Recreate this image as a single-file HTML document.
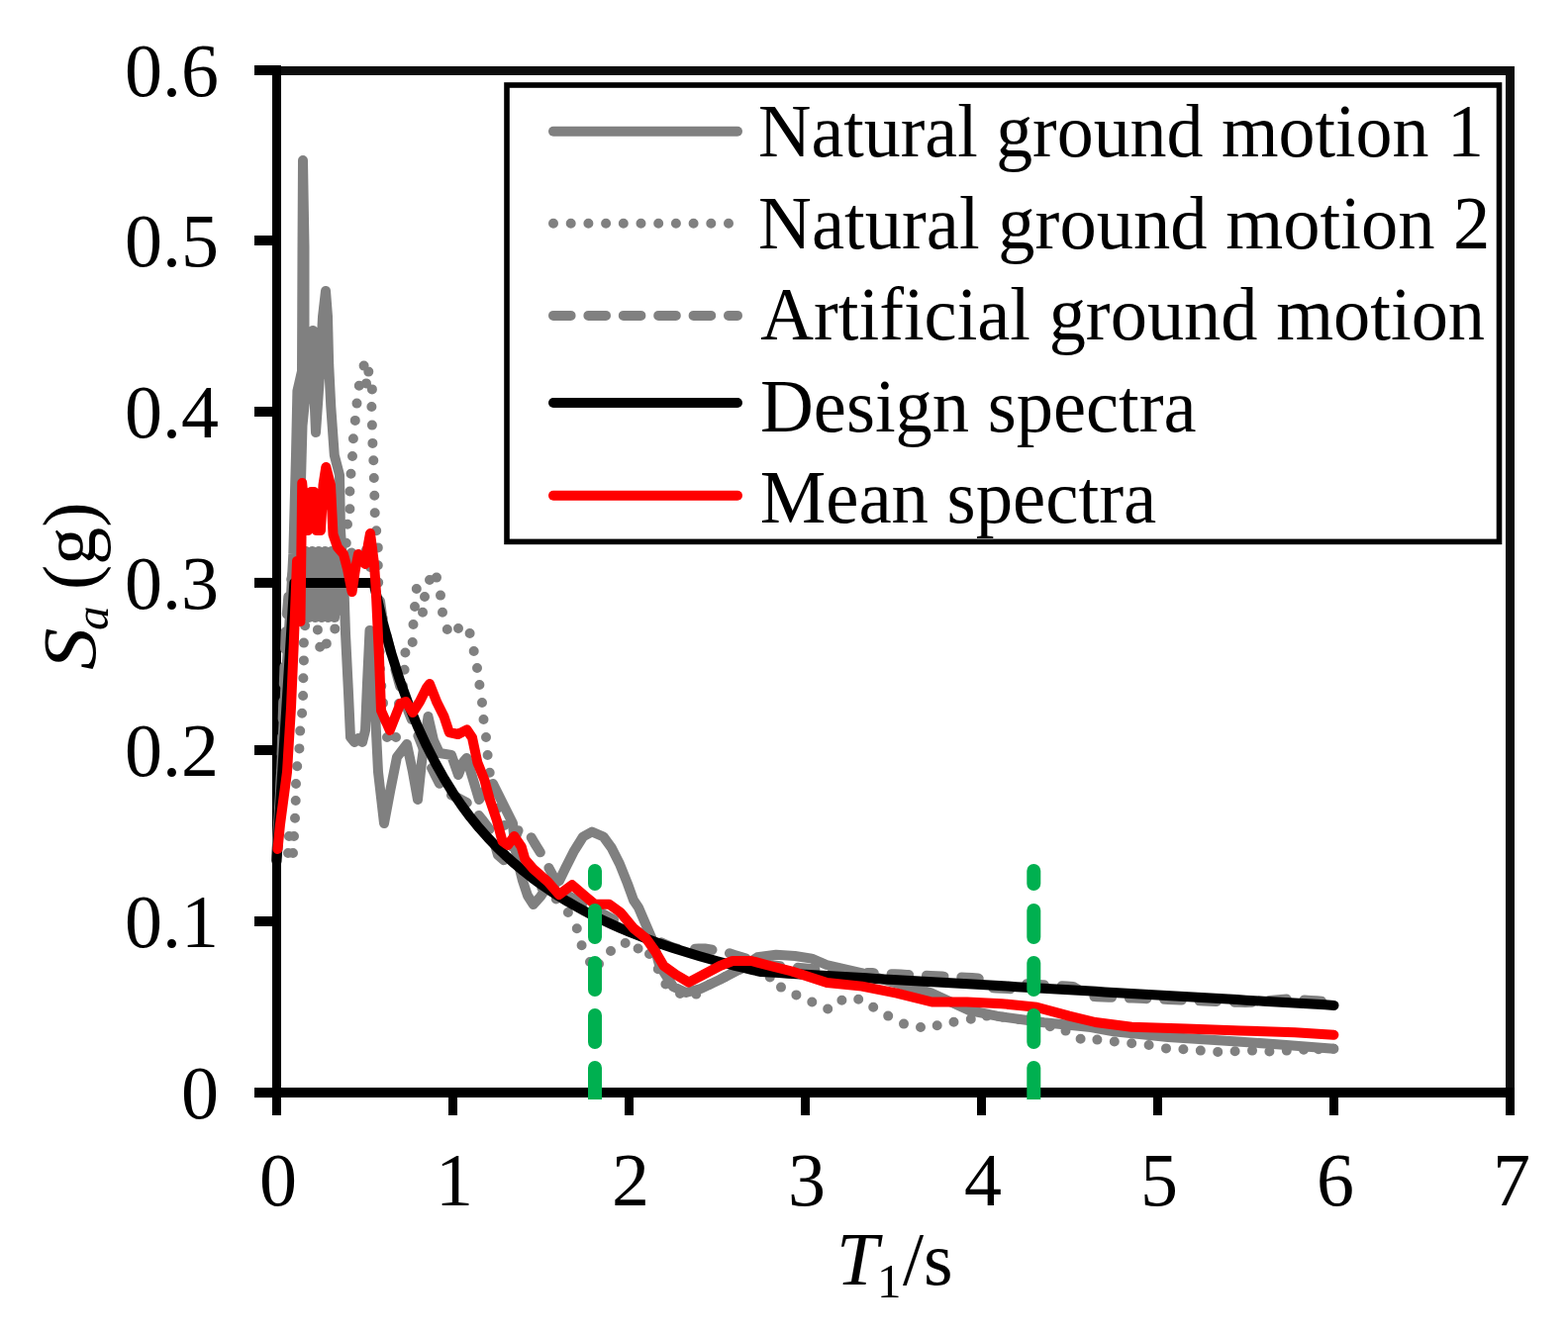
<!DOCTYPE html><html><head><meta charset="utf-8"><style>html,body{margin:0;padding:0;background:#fff}svg{display:block}</style></head><body>
<svg width="1584" height="1349" viewBox="0 0 1584 1349">
<rect width="1584" height="1349" fill="#fff"/>
<rect x="279.5" y="71.5" width="1246" height="1032.5" fill="none" stroke="#0d0d0d" stroke-width="9"/>
<line x1="279.5" y1="66" x2="279.5" y2="1109" stroke="#000" stroke-width="9"/>
<line x1="275" y1="1104" x2="1530" y2="1104" stroke="#000" stroke-width="10"/>
<line x1="257" y1="1104.1" x2="280" y2="1104.1" stroke="#000" stroke-width="10"/>
<line x1="257" y1="931.0" x2="280" y2="931.0" stroke="#000" stroke-width="10"/>
<line x1="257" y1="758.0" x2="280" y2="758.0" stroke="#000" stroke-width="10"/>
<line x1="257" y1="588.9" x2="280" y2="588.9" stroke="#000" stroke-width="10"/>
<line x1="257" y1="416.0" x2="280" y2="416.0" stroke="#000" stroke-width="10"/>
<line x1="257" y1="243.0" x2="280" y2="243.0" stroke="#000" stroke-width="10"/>
<line x1="257" y1="71.0" x2="280" y2="71.0" stroke="#000" stroke-width="10"/>
<line x1="279.5" y1="1100" x2="279.5" y2="1127" stroke="#000" stroke-width="9"/>
<line x1="457.5" y1="1100" x2="457.5" y2="1127" stroke="#000" stroke-width="9"/>
<line x1="635.5" y1="1100" x2="635.5" y2="1127" stroke="#000" stroke-width="9"/>
<line x1="813.5" y1="1100" x2="813.5" y2="1127" stroke="#000" stroke-width="9"/>
<line x1="991.5" y1="1100" x2="991.5" y2="1127" stroke="#000" stroke-width="9"/>
<line x1="1169.5" y1="1100" x2="1169.5" y2="1127" stroke="#000" stroke-width="9"/>
<line x1="1347.5" y1="1100" x2="1347.5" y2="1127" stroke="#000" stroke-width="9"/>
<line x1="1525.5" y1="1100" x2="1525.5" y2="1127" stroke="#000" stroke-width="9"/>
<defs><clipPath id="pa"><rect x="279.5" y="71" width="1246" height="1033"/></clipPath></defs>
<g fill="none" stroke-linejoin="round">
<polyline points="279.0,868.0 283.0,800.0 288.0,700.0 293.0,620.0 296.3,560.0 299.0,460.0 300.4,395.0 305.0,375.0 305.5,250.0 306.0,162.0 307.5,250.0 307.5,380.0 305.0,440.0 304.0,486.0 305.5,430.0 310.0,385.0 316.0,334.0 317.5,400.0 319.0,437.0 323.0,380.0 326.0,320.0 329.0,294.0 331.0,320.0 332.2,368.6 334.3,411.0 337.8,460.0 343.0,480.0 344.0,536.0 347.0,580.0 349.0,640.0 352.0,700.0 354.0,745.0 358.0,750.0 362.0,746.0 366.0,750.0 369.0,738.0 371.0,690.0 373.5,637.0 378.0,700.0 382.0,780.0 388.0,832.0 394.0,800.0 401.0,765.0 411.0,752.0 417.0,780.0 422.0,808.0 426.0,770.0 432.5,724.0 438.0,748.0 444.0,761.0 456.0,763.0 463.0,783.0 468.0,770.0 471.4,766.0 478.0,788.0 484.0,808.0 492.0,796.0 498.0,792.0 508.0,812.0 518.0,832.0 520.0,855.0 523.0,870.0 528.0,890.0 533.0,905.0 538.8,914.0 546.0,906.0 552.0,897.0 560.0,893.0 565.0,890.0 571.3,877.0 579.5,860.7 589.0,845.5 598.0,840.5 609.6,845.5 617.8,856.7 626.0,873.0 634.0,893.0 640.0,909.6 645.0,917.0 654.0,938.0 660.0,952.0 666.0,975.0 680.0,997.0 693.0,1003.0 708.0,999.0 727.0,990.0 746.0,980.0 765.0,967.3 784.0,964.8 803.0,966.0 820.0,968.6 835.0,975.0 870.0,983.0 900.0,992.0 940.0,1003.0 979.0,1021.0 1007.0,1026.7 1054.7,1033.3 1102.0,1038.0 1125.0,1042.4 1180.0,1048.0 1234.8,1051.5 1289.7,1055.2 1347.4,1059.8" stroke="#808080" stroke-width="10" stroke-linecap="round"/>
<path d="M291.0 862.0h0M296.0 862.0h0M292.0 845.0h0M297.0 845.0h0M298.0 826.8h0M298.7 809.0h0M299.0 792.0h0M300.2 774.2h0M302.4 756.4h0M303.2 738.6h0M305.1 720.8h0M306.1 703.0h0M306.4 685.2h0M306.9 667.4h0M306.9 649.6h0M308.1 632.2h0M310.5 614.9h0M315.3 601.9h0M318.2 619.2h0M320.9 636.4h0M323.2 653.8h0M329.8 650.4h0M338.3 635.4h0M340.4 618.0h0M342.5 600.7h0M344.6 583.3h0M347.1 566.0h0M349.8 548.7h0M351.0 529.7h0M353.4 514.3h0M353.4 496.5h0M354.5 478.7h0M356.0 461.0h0M356.9 443.2h0M358.8 424.9h0M360.5 407.6h0M362.8 389.8h0M367.6 369.6h0M370.0 387.4h0M372.3 375.6h0M375.9 393.4h0M375.4 411.0h0M375.9 429.6h0M376.4 447.9h0M377.3 465.2h0M377.8 483.0h0M378.3 500.8h0M378.7 518.3h0M380.2 536.3h0M381.8 553.4h0M381.8 571.2h0M382.2 588.6h0M382.7 606.0h0M383.1 623.4h0M383.3 640.9h0M383.6 658.3h0M383.9 675.7h0M385.3 693.1h0M387.0 710.4h0M388.9 727.7h0M391.0 745.0h0M400.0 745.0h0M403.0 711.0h0M407.0 693.0h0M408.6 676.7h0M409.4 659.5h0M416.7 649.0h0M417.5 631.0h0M419.0 613.0h0M420.8 595.0h0M427.0 618.7h0M429.0 603.0h0M434.0 586.0h0M441.0 583.6h0M445.0 601.6h0M447.0 618.7h0M451.8 636.0h0M463.0 635.0h0M474.6 640.0h0M478.7 658.0h0M482.0 675.0h0M484.4 692.0h0M487.0 710.0h0M488.5 727.0h0M491.0 745.0h0M492.6 763.0h0M494.7 780.7h0M498.0 798.9h0M502.7 816.7h0M509.6 833.9h0M516.4 851.1h0M525.2 867.3h0M536.0 882.3h0M547.3 896.9h0M561.8 908.4h0M573.9 922.0h0M582.8 938.2h0M587.6 955.3h0M596.0 972.0h0M605.0 974.0h0M617.0 961.0h0M631.7 953.0h0M644.6 958.5h0M656.0 964.0h0M664.8 979.3h0M672.4 994.5h0M687.0 1004.0h0M703.3 1004.6h0M716.9 994.8h0M732.3 987.2h0M747.6 979.6h0M763.9 977.4h0M777.8 987.5h0M789.0 997.6h0M804.4 1005.4h0M820.3 1012.5h0M836.2 1019.5h0M850.4 1010.7h0M867.2 1009.8h0M882.2 1017.8h0M897.2 1026.6h0M913.0 1034.6h0M930.0 1038.0h0M946.7 1036.3h0M963.5 1032.8h0M980.8 1029.8h0M996.8 1026.6h0M1012.9 1027.7h0M1029.1 1029.9h0M1044.9 1033.5h0M1060.8 1037.2h0M1076.5 1041.6h0M1091.6 1049.7h0M1108.4 1050.6h0M1125.8 1052.5h0M1143.2 1054.3h0M1160.6 1056.0h0M1178.0 1059.4h0M1195.4 1060.3h0M1212.8 1061.6h0M1230.2 1062.9h0M1247.6 1062.2h0M1265.0 1061.6h0M1282.4 1062.5h0M1299.8 1061.6h0M1317.0 1060.7h0M1332.0 1060.3h0M1347.0 1059.8h0" stroke="#808080" stroke-width="10" stroke-linecap="round"/>
<polyline points="309.0,557.0 312.0,624.0 315.5,557.0 318.5,624.0 322.0,557.0 325.0,624.0 328.5,557.0 331.5,624.0 335.0,557.0 338.0,624.0 341.5,557.0 344.0,610.0" stroke="#808080" stroke-width="10" stroke-linecap="round"/>
<polyline points="279.0,868.0 282.6,820.0 284.0,780.0 286.5,700.0 289.0,630.0 292.0,595.0 298.0,570.0 305.0,560.0 309.0,590.0 316.0,560.0 323.0,600.0 330.0,565.0 337.0,595.0 344.0,560.0 350.0,575.0 356.0,556.0 363.0,553.0 370.0,556.0 378.0,590.0" stroke="#808080" stroke-width="10" stroke-linecap="round" stroke-dasharray="17.6 17.8" stroke-dashoffset="0.00"/>
<polyline points="378.0,590.0 383.0,600.0 386.0,622.0 392.0,648.0 399.0,675.0 406.0,700.0 413.0,720.0 425.0,750.0 433.0,770.0 440.0,784.0 448.0,800.0 462.0,806.0 475.0,813.0 487.0,828.0 496.0,840.0 503.0,864.0 510.0,870.0 516.0,862.0 520.0,848.0 524.0,838.0 533.0,840.0 540.0,852.0 550.0,868.0 555.0,878.0 562.0,891.0" stroke="#808080" stroke-width="10" stroke-linecap="round" stroke-dasharray="17.6 17.8" stroke-dashoffset="16.60"/>
<polyline points="562.0,898.0 568.0,901.6 574.0,905.0 580.0,908.3 586.0,911.4 592.0,914.5 598.0,917.4 604.0,920.6 610.0,924.0 616.0,927.2 622.0,930.3 628.0,933.4 634.0,936.3 640.0,939.2 646.0,942.2 652.0,945.0 658.0,947.9 664.0,950.6 670.0,953.3 676.0,955.9 682.0,958.1 688.0,959.4 694.0,959.5 700.0,958.9 706.0,958.6 712.0,958.4 718.0,959.5 724.0,960.6 730.0,961.7 736.0,962.9 742.0,964.9 748.0,966.8 754.0,968.7 760.0,970.6 766.0,972.6 772.0,974.0 778.0,975.0 784.0,975.7 790.0,976.3 796.0,976.8 802.0,977.4 808.0,978.0 814.0,978.5 820.0,979.1 826.0,979.7 832.0,980.3 838.0,980.8 844.0,981.4 850.0,982.0 856.0,982.6 862.0,983.0 868.0,983.0 874.0,983.1 880.0,983.1" stroke="#808080" stroke-width="10" stroke-linecap="round" stroke-dasharray="17.6 17.8" stroke-dashoffset="22.50"/>
<polyline points="880.0,983.1 886.0,983.4 892.0,983.7 898.0,984.0 904.0,984.3 910.0,984.6 916.0,984.9 922.0,985.2 928.0,985.5 934.0,985.7 940.0,986.0 946.0,986.3 952.0,986.6 958.0,986.9 964.0,987.2 970.0,987.5 976.0,987.8 982.0,988.1 988.0,988.4 994.0,992.3 1000.0,998.1 1006.0,998.4 1012.0,998.8 1018.0,999.1 1024.0,999.5 1030.0,996.1 1036.0,994.2 1042.0,994.5 1048.0,994.9 1054.0,995.2 1060.0,995.5 1066.0,995.9 1072.0,996.2 1078.0,996.6 1084.0,996.9 1090.0,1000.3 1096.0,1004.2 1102.0,1006.9 1108.0,1007.2 1114.0,1007.4 1120.0,1007.7 1126.0,1007.9 1132.0,1008.1 1138.0,1008.4 1144.0,1008.6 1150.0,1008.8 1156.0,1009.1 1162.0,1009.3 1168.0,1009.5 1174.0,1009.8 1180.0,1010.0 1186.0,1010.2 1192.0,1010.5 1198.0,1010.7 1204.0,1011.0 1210.0,1011.2 1216.0,1011.4 1222.0,1011.7 1228.0,1011.9 1234.0,1012.1 1240.0,1012.4 1246.0,1012.6 1252.0,1012.8 1258.0,1013.1 1264.0,1012.8 1270.0,1012.2 1276.0,1011.7 1282.0,1011.1 1288.0,1010.6 1294.0,1010.0 1300.0,1009.5 1306.0,1009.8 1312.0,1010.2 1318.0,1010.5 1324.0,1010.9 1330.0,1011.2 1336.0,1011.9 1342.0,1014.2 1347.0,1016.2" stroke="#808080" stroke-width="10" stroke-linecap="round" stroke-dasharray="17.6 17.8" stroke-dashoffset="14.80"/>
<polyline points="279.5,870.4 297.3,588.9 377.4,588.9 386.3,627.1 395.2,659.7 404.1,687.9 413.0,712.5 421.9,734.1 430.8,753.3 439.7,770.8 448.6,786.6 457.5,801.0 466.4,814.0 475.3,825.9 484.2,836.8 493.1,846.8 502.0,856.1 510.9,864.7 519.8,872.7 528.7,880.1 537.6,887.1 546.5,893.6 555.4,899.7 564.3,905.5 573.2,910.9 582.1,916.0 591.0,920.9 599.9,925.5 608.8,929.8 617.7,933.9 626.6,937.9 635.5,941.6 644.4,945.2 653.3,948.6 662.2,951.9 671.1,955.0 680.0,958.0 688.9,960.8 697.8,963.6 706.7,966.2 715.6,968.7 724.5,971.2 733.4,973.5 742.3,975.8 751.2,978.0 760.1,980.1 769.0,982.1 777.9,982.6 786.8,983.1 795.7,983.7 804.6,984.2 813.5,984.7 822.4,985.2 831.3,985.7 840.2,986.3 849.1,986.8 858.0,987.3 866.9,987.8 875.8,988.3 884.7,988.9 893.6,989.4 902.5,989.9 911.4,990.4 920.3,990.9 929.2,991.5 938.1,992.0 947.0,992.5 955.9,993.0 964.8,993.5 973.7,994.0 982.6,994.6 991.5,995.1 1000.4,995.6 1009.3,996.1 1018.2,996.6 1027.1,997.2 1036.0,997.7 1044.9,998.2 1053.8,998.7 1062.7,999.2 1071.6,999.8 1080.5,1000.3 1089.4,1000.8 1098.3,1001.3 1107.2,1001.8 1116.1,1002.4 1125.0,1002.9 1133.9,1003.4 1142.8,1003.9 1151.7,1004.4 1160.6,1005.0 1169.5,1005.5 1178.4,1006.0 1187.3,1006.5 1196.2,1007.0 1205.1,1007.5 1214.0,1008.1 1222.9,1008.6 1231.8,1009.1 1240.7,1009.6 1249.6,1010.1 1258.5,1010.7 1267.4,1011.2 1276.3,1011.7 1285.2,1012.2 1294.1,1012.7 1303.0,1013.3 1311.9,1013.8 1320.8,1014.3 1329.7,1014.8 1338.6,1015.3 1347.5,1015.9" stroke="#000" stroke-width="10" stroke-linecap="round"/>
<polyline points="280.5,858.0 283.0,833.0 290.0,780.0 294.0,715.0 296.8,650.0 300.0,567.0 303.5,628.0 305.2,488.0 308.0,520.0 311.0,536.0 314.5,497.0 317.0,497.0 320.0,536.0 324.0,536.0 326.5,490.0 329.3,472.0 334.0,490.0 336.5,540.0 341.0,553.0 347.0,560.0 351.0,575.0 355.6,598.0 359.0,575.0 362.0,560.0 366.0,566.0 369.0,570.0 372.0,550.0 374.0,539.0 378.0,570.0 379.6,593.0 383.0,665.0 385.0,718.0 393.8,738.0 404.5,711.0 410.0,709.0 417.0,720.0 424.0,709.0 431.0,695.0 434.0,691.0 441.4,709.8 448.5,724.0 453.8,740.0 462.7,742.0 471.6,737.4 477.0,745.4 482.3,770.3 489.4,788.0 494.7,807.7 501.9,829.0 507.5,850.0 513.0,854.0 519.5,845.0 526.8,855.8 530.3,868.2 538.7,878.0 553.4,891.0 564.8,904.0 577.9,894.2 591.0,905.6 600.7,913.7 615.4,913.7 626.8,922.0 640.0,938.0 652.8,948.4 661.7,961.0 670.5,976.0 683.0,985.0 695.8,992.6 708.4,986.0 727.3,976.0 740.0,971.0 759.0,971.0 778.0,976.0 800.0,981.5 835.4,993.0 870.7,996.6 906.0,1003.6 941.4,1012.5 976.8,1012.5 1012.0,1014.2 1047.5,1017.8 1080.0,1026.6 1106.6,1033.0 1143.2,1037.8 1198.0,1039.6 1253.0,1041.5 1308.0,1043.3 1347.4,1045.7" stroke="#f00" stroke-width="10" stroke-linecap="round"/>
</g>
<defs><clipPath id="gc"><rect x="0" y="0" width="1584" height="1111"/></clipPath></defs>
<line clip-path="url(#gc)" x1="601.0" y1="1117" x2="601.0" y2="880" stroke="#00b050" stroke-width="14" stroke-linecap="round" stroke-dasharray="38 26 27 26 27 26 27 27 27 30"/>
<line clip-path="url(#gc)" x1="1044.3" y1="1117" x2="1044.3" y2="880" stroke="#00b050" stroke-width="14" stroke-linecap="round" stroke-dasharray="38 26 27 26 27 26 27 27 27 30"/>
<text x="221" y="1130.1" font-family="Liberation Serif, serif" font-size="76" text-anchor="end">0</text>
<text x="221" y="957.0" font-family="Liberation Serif, serif" font-size="76" text-anchor="end">0.1</text>
<text x="221" y="784.0" font-family="Liberation Serif, serif" font-size="76" text-anchor="end">0.2</text>
<text x="221" y="614.9" font-family="Liberation Serif, serif" font-size="76" text-anchor="end">0.3</text>
<text x="221" y="442.0" font-family="Liberation Serif, serif" font-size="76" text-anchor="end">0.4</text>
<text x="221" y="269.0" font-family="Liberation Serif, serif" font-size="76" text-anchor="end">0.5</text>
<text x="221" y="97.0" font-family="Liberation Serif, serif" font-size="76" text-anchor="end">0.6</text>
<text x="281.0" y="1218" font-family="Liberation Serif, serif" font-size="76" text-anchor="middle">0</text>
<text x="459.0" y="1218" font-family="Liberation Serif, serif" font-size="76" text-anchor="middle">1</text>
<text x="637.0" y="1218" font-family="Liberation Serif, serif" font-size="76" text-anchor="middle">2</text>
<text x="815.0" y="1218" font-family="Liberation Serif, serif" font-size="76" text-anchor="middle">3</text>
<text x="993.0" y="1218" font-family="Liberation Serif, serif" font-size="76" text-anchor="middle">4</text>
<text x="1171.0" y="1218" font-family="Liberation Serif, serif" font-size="76" text-anchor="middle">5</text>
<text x="1349.0" y="1218" font-family="Liberation Serif, serif" font-size="76" text-anchor="middle">6</text>
<text x="1527.0" y="1218" font-family="Liberation Serif, serif" font-size="76" text-anchor="middle">7</text>
<text x="845" y="1298" font-family="Liberation Serif, serif" font-size="76" font-style="italic">T</text>
<text x="886" y="1311" font-family="Liberation Serif, serif" font-size="49">1</text>
<text x="912" y="1298" font-family="Liberation Serif, serif" font-size="76">/s</text>
<g transform="translate(96,676) rotate(-90)"><text x="-1" y="0" font-family="Liberation Serif, serif" font-size="76" font-style="italic" transform="scale(1.12,1)">S</text><text x="39" y="13" font-family="Liberation Serif, serif" font-size="49" font-style="italic">a</text><text x="80" y="0" font-family="Liberation Serif, serif" font-size="76">(g)</text></g>
<rect x="512" y="86" width="1002.5" height="461.4" fill="#fff" stroke="#000" stroke-width="5.6"/>
<line x1="559" y1="132.7" x2="745" y2="132.7" stroke="#808080" stroke-width="10" stroke-linecap="round"/>
<text transform="translate(766.05,158.0) scale(0.9727,1)" font-family="Liberation Serif, serif" font-size="76">Natural ground motion 1</text>
<line x1="559" y1="225.7" x2="745" y2="225.7" stroke="#808080" stroke-width="10" stroke-linecap="round" stroke-dasharray="0 17.7"/>
<text transform="translate(766.04,251.0) scale(0.9813,1)" font-family="Liberation Serif, serif" font-size="76">Natural ground motion 2</text>
<line x1="559" y1="318.9" x2="745" y2="318.9" stroke="#808080" stroke-width="10" stroke-linecap="round" stroke-dasharray="17.6 17.8"/>
<text transform="translate(768.22,342.5) scale(0.9796,1)" font-family="Liberation Serif, serif" font-size="76">Artificial ground motion</text>
<line x1="559" y1="407.0" x2="745" y2="407.0" stroke="#000" stroke-width="10" stroke-linecap="round"/>
<text transform="translate(768.04,436.0) scale(0.9803,1)" font-family="Liberation Serif, serif" font-size="76">Design spectra</text>
<line x1="559" y1="500.7" x2="745" y2="500.7" stroke="#f00" stroke-width="10" stroke-linecap="round"/>
<text transform="translate(767.73,527.8) scale(0.9837,1)" font-family="Liberation Serif, serif" font-size="76">Mean spectra</text>
</svg>
</body></html>
